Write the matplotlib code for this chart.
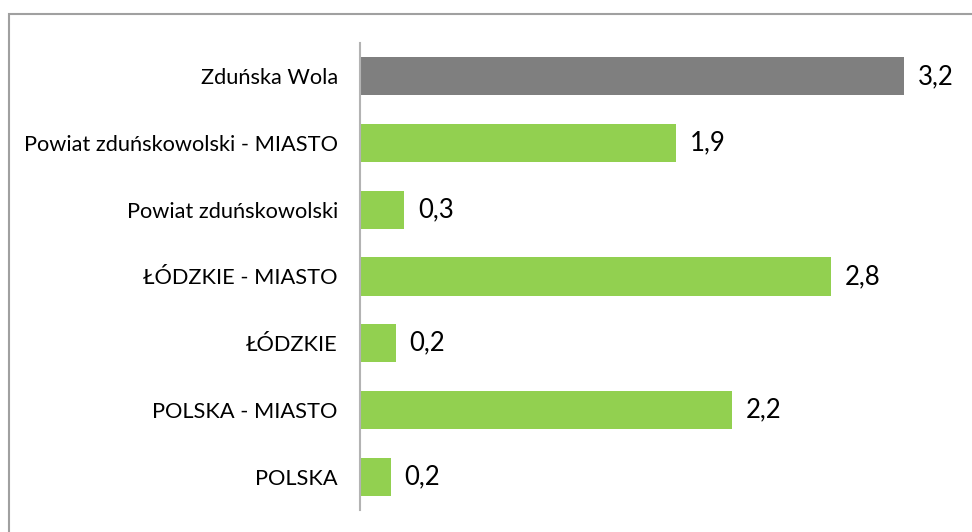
import matplotlib
matplotlib.use("Agg")
import matplotlib.pyplot as plt
from matplotlib.patches import Rectangle

categories = ["Zduńska Wola", "Powiat zduńskowolski - MIASTO", "Powiat zduńskowolski",
              "ŁÓDZKIE - MIASTO", "ŁÓDZKIE", "POLSKA - MIASTO", "POLSKA"]
values = [3.2, 1.86, 0.26, 2.77, 0.21, 2.19, 0.18]
bar_colors = ["#7f7f7f", "#92d050", "#92d050", "#92d050", "#92d050", "#92d050", "#92d050"]

plt.rcParams['font.family'] = ['Lato', 'DejaVu Sans']

W, H = 972, 532
fig = plt.figure(figsize=(W / 100, H / 100), dpi=100)

# outer border (only top and left visible)
fig.patches.append(Rectangle((8.5 / W, -0.05), 1.2, (H - 13.5) / H + 0.05,
                             transform=fig.transFigure, fill=False,
                             edgecolor="#a0a0a0", linewidth=1.5))

left_px, right_px = 360, 965
top_px, bot_px = 43, 510
ax = fig.add_axes([left_px / W, 1 - bot_px / H, (right_px - left_px) / W, (bot_px - top_px) / H])
px_per_unit = 170.0
ax.set_xlim(0, (right_px - left_px) / px_per_unit)
ax.set_ylim(len(categories) - 0.5, -0.5)

ypos = list(range(len(categories)))
ax.barh(ypos, values, height=0.57, color=bar_colors)

for y, v in zip(ypos, values):
    ax.annotate(f"{v:.1f}".replace(".", ","), xy=(v, y), xytext=(10, 0),
                textcoords="offset points", va="center", ha="left",
                fontsize=18.5, color="#000000")

ax.set_yticks(ypos)
ax.set_yticklabels(categories, fontsize=15.7)
ax.tick_params(axis="y", length=0, pad=16)
ax.set_xticks([])
for s in ["top", "right", "bottom"]:
    ax.spines[s].set_visible(False)
ax.spines["left"].set_color("#b3b3b3")
ax.spines["left"].set_linewidth(1.5)

fig.savefig("out.png", dpi=100)
